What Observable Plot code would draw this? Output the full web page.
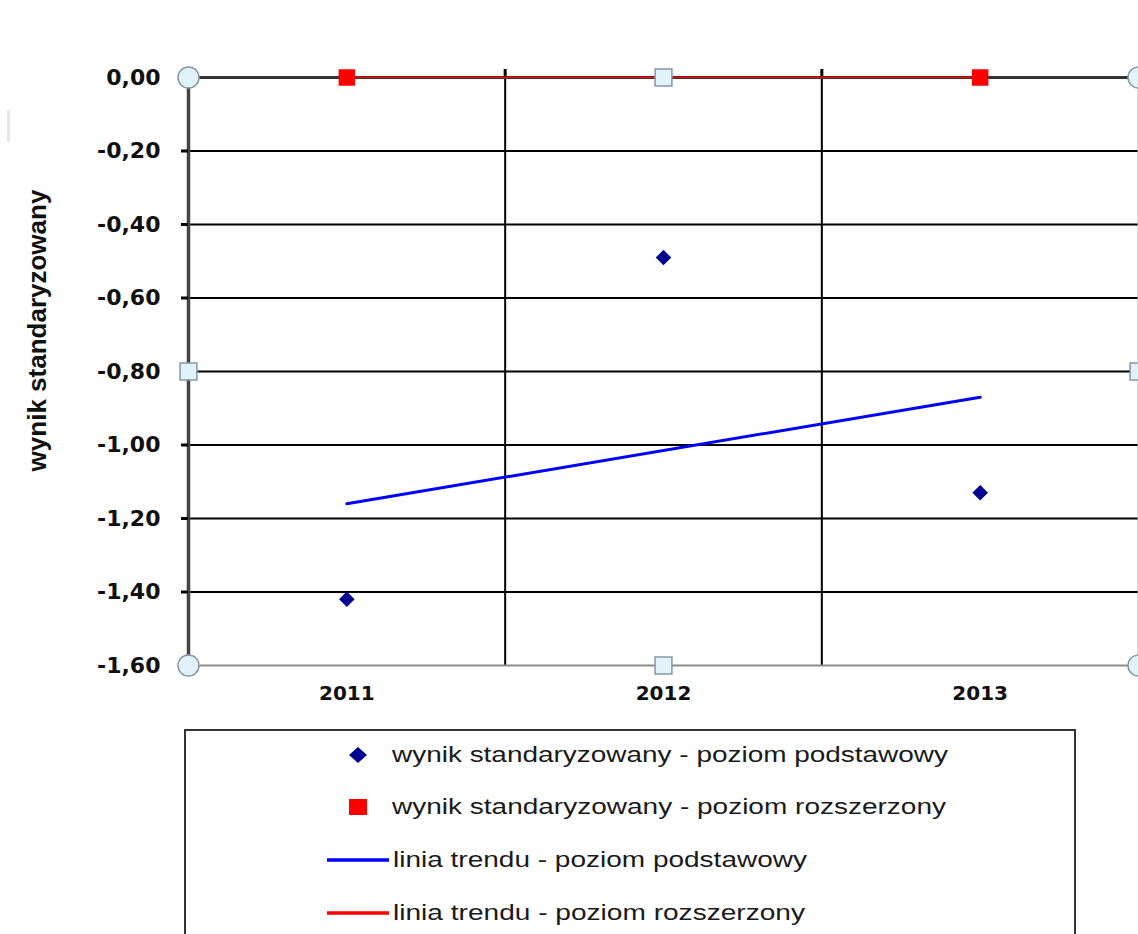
<!DOCTYPE html>
<html><head><meta charset="utf-8">
<script src="https://cdn.jsdelivr.net/npm/d3@7"></script>
<script src="https://cdn.jsdelivr.net/npm/@observablehq/plot@0.6"></script>
<style>
html,body{margin:0;padding:0;background:#fff;}
body{width:1138px;height:934px;overflow:hidden;position:relative;font-family:"Liberation Sans",Arial,sans-serif;}
#chart{position:absolute;left:0;top:0;}
#legend{position:absolute;left:184px;top:729px;}
#smudge{position:absolute;left:7px;top:110px;width:3px;height:32px;background:#e6e6e6;}
</style></head><body>
<div id="smudge"></div>
<div id="chart"></div>
<svg id="legend" width="954" height="205"></svg>
<script>
// ---- data ----
const years = [2011, 2012, 2013];
const basicScores = [-1.42, -0.49, -1.13];
const extendedScores = [0, 0, 0];
const trendYears = [2011, 2013];
const trendBasic = [-1.16, -0.87];
const trendExtended = [0, 0];
const yTicks = [0, -0.2, -0.4, -0.6, -0.8, -1.0, -1.2, -1.4, -1.6];
const xBoundaries = [2011.5, 2012.5];
const xDomain = [2010.5, 2013.5];
const yDomain = [-1.6, 0];
const yTitle = "wynik standaryzowany";
const legendLabels = [
  "wynik standaryzowany - poziom podstawowy",
  "wynik standaryzowany - poziom rozszerzony",
  "linia trendu - poziom podstawowy",
  "linia trendu - poziom rozszerzony"
];
const colors = {basic: "#000090", extended: "#ff0000", trendBasic: "#0000ff", trendExtended: "#ff0000"};

// ---- tables ----
const basicRows = years.map((y, i) => ({year: y, value: basicScores[i]}));
const extRows = years.map((y, i) => ({year: y, value: extendedScores[i]}));
const trendBRows = trendYears.map((y, i) => ({year: y, value: trendBasic[i]}));
const trendERows = trendYears.map((y, i) => ({year: y, value: trendExtended[i]}));
const fmt = d => d.toFixed(2).replace(".", ",");
const inner = yTicks.filter(d => d < yDomain[1] && d > yDomain[0]);

const handleStyle = {fill: "#e1f3f8", stroke: "#8797a8", strokeWidth: 1.5};

const chart = Plot.plot({
  width: 1138,
  height: 720,
  marginLeft: 188,
  marginRight: 0,
  marginTop: 77,
  marginBottom: 55,
  style: {background: "transparent", fontFamily: "Liberation Sans, Arial, sans-serif", color: "#111"},
  x: {type: "linear", domain: xDomain, axis: null},
  y: {domain: yDomain, axis: null},
  marks: [
    Plot.ruleY(inner, {stroke: "#000", strokeWidth: 2}),
    Plot.ruleX(xBoundaries, {stroke: "#000", strokeWidth: 2}),
    Plot.ruleX(xBoundaries, {y1: yDomain[1], y2: yDomain[1], insetTop: -8, stroke: "#000", strokeWidth: 3}),
    Plot.ruleY([yDomain[0]], {stroke: "#8c8c8c", strokeWidth: 2}),
    Plot.ruleX([xDomain[1]], {stroke: "#b0b0b0", strokeWidth: 2}),
    Plot.ruleY([yDomain[1]], {stroke: "#333", strokeWidth: 3}),
    Plot.ruleX([xDomain[0]], {stroke: "#444", strokeWidth: 3.5}),
    Plot.axisY(yTicks, {tickSize: 7, tickPadding: 21, tickFormat: fmt, fontSize: 22, fontWeight: "bold",
      fontFamily: "DejaVu Sans", stroke: "#000", strokeWidth: 3, label: null}),
    Plot.axisX(years, {tickSize: 0, tickPadding: 20, tickFormat: d => String(d), fontSize: 20, fontWeight: "bold",
      fontFamily: "DejaVu Sans", label: null}),
    Plot.text([yTitle], {frameAnchor: "left", textAnchor: "middle", text: d => d, dx: -151, dy: -41, rotate: -90,
      fontSize: 26, fontWeight: "bold", fontFamily: "Liberation Sans", fill: "#111"}),
    Plot.line(trendERows, {x: "year", y: "value", stroke: colors.trendExtended, strokeWidth: 1.5}),
    Plot.line(trendBRows, {x: "year", y: "value", stroke: colors.trendBasic, strokeWidth: 3}),
    Plot.dot(basicRows, {x: "year", y: "value", symbol: "diamond2", r: 7, fill: colors.basic, stroke: null}),
    Plot.dot(extRows, {x: "year", y: "value", symbol: "square", r: 9.3, fill: colors.extended, stroke: null}),
    ...["top-left", "top-right", "bottom-left", "bottom-right"].map(a =>
      Plot.dot([0], {frameAnchor: a, symbol: "circle", r: 10.5, ...handleStyle})),
    ...["top", "bottom", "left", "right"].map(a =>
      Plot.dot([0], {frameAnchor: a, symbol: "square", r: 9.5, ...handleStyle}))
  ]
});
document.getElementById("chart").appendChild(chart);

// ---- legend ----
const lg = d3.select("#legend");
lg.append("rect").attr("x", 1).attr("y", 1).attr("width", 890).attr("height", 300)
  .attr("fill", "#fff").attr("stroke", "#333").attr("stroke-width", 2);
const rowY = [26, 78, 131, 184];
const textX = [208, 208, 209, 209];
const textLen = [556, 554, 414, 412];
// diamond
lg.append("path").attr("d", `M174,${rowY[0]-8}L183,${rowY[0]}L174,${rowY[0]+8}L165,${rowY[0]}Z`).attr("fill", colors.basic);
// square
lg.append("rect").attr("x", 165).attr("y", rowY[1] - 8).attr("width", 18).attr("height", 16).attr("fill", colors.extended);
// lines
lg.append("line").attr("x1", 143).attr("x2", 205).attr("y1", rowY[2]).attr("y2", rowY[2]).attr("stroke", colors.trendBasic).attr("stroke-width", 3.5);
lg.append("line").attr("x1", 143).attr("x2", 205).attr("y1", rowY[3]).attr("y2", rowY[3]).attr("stroke", colors.trendExtended).attr("stroke-width", 3.5);
legendLabels.forEach((t, i) => {
  lg.append("text").attr("x", textX[i]).attr("y", rowY[i] + 7)
    .attr("font-family", "Liberation Sans, Arial, sans-serif").attr("font-size", 22)
    .attr("fill", "#1a1a1a").attr("textLength", textLen[i]).attr("lengthAdjust", "spacingAndGlyphs")
    .text(t);
});
</script>
</body></html>
